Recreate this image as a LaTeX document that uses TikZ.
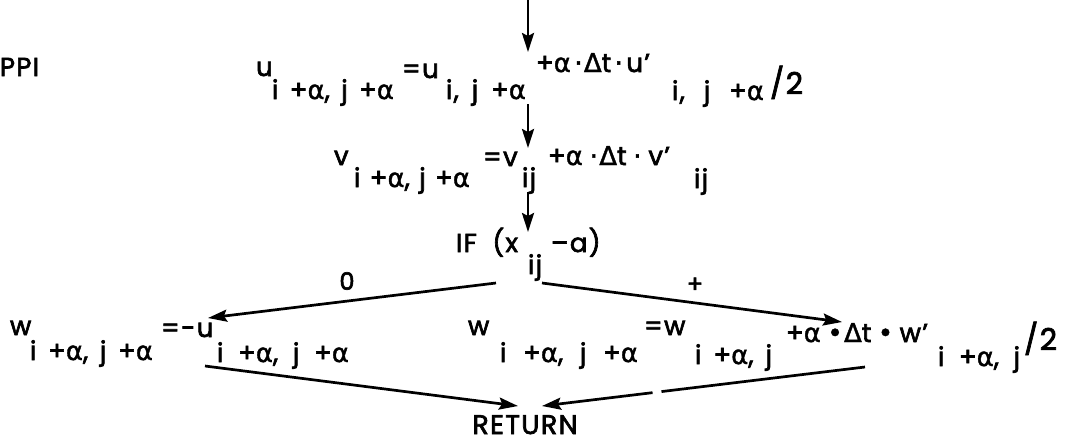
\documentclass[tikz,border=0pt]{standalone}
\usepackage{fontspec}
\setmainfont{Poppins}[LetterSpace=5,FakeBold=2.5]
\newfontfamily\gk{DejaVu Sans}[LetterSpace=5,FakeBold=1.5]
\usetikzlibrary{arrows.meta}
\newcommand\al{{\gk α}}
\newcommand\Dt{{\gk Δ}t}
\newcommand\cdt{{\gk ·}}
\newcommand\bul{{\gk •}}
\newcommand\gp{\hspace{1pt plus 1fil}}
\newcommand\fitw[2]{\makebox[#1pt][s]{#2}}
\tikzset{
  txt/.style={anchor=base west, inner sep=0pt, outer sep=0pt, font=\fontsize{26}{30}\selectfont},
  bigtxt/.style={anchor=base west, inner sep=0pt, outer sep=0pt, font=\fontsize{30}{34}\selectfont},
  lbl/.style={inner sep=0pt, font=\fontsize{24}{28}\selectfont},
  flow/.style={line width=2.7pt, -{Stealth[length=19pt,width=12pt,inset=3pt]}},
}
\begin{document}
\begin{tikzpicture}[x=1pt,y=-1pt]
\useasboundingbox (0,0) rectangle (1066,445);
\fill[white] (0,0) rectangle (1066,445);

\node[txt] (ppi) at (0,76) {PPI};

% line 1
\node[txt] (u1a) at (256,76) {u};
\node[txt] (u1b) at (272,99) {\fitw{122}{i\gp+\al,\gp j\gp+\al}};
\node[txt] (u1c) at (402,78) {=u};
\node[txt] (u1d) at (446,99) {\fitw{80}{i,\gp j\gp+\al}};
\node[txt] (u1e) at (536,72) {\fitw{114}{+\al\gp\cdt\Dt\gp\cdt\gp u'}};
\node[txt] (u1f) at (672,100) {\fitw{92}{i,\gp j\gp+\al}};
\node[bigtxt] (u1g) at (770,94) {/2};

% line 2
\node[txt] (v1a) at (334,165) {v};
\node[txt] (v1b) at (354,187) {\fitw{116}{i\gp+\al,\gp j\gp+\al}};
\node[txt] (v1c) at (483,166) {=v};
\node[txt] (v1d) at (522,187) {ij};
\node[txt] (v1e) at (548,165) {\fitw{122}{+\al\gp\cdt\Dt\gp\cdt\gp v'}};
\node[txt] (v1f) at (694,188) {ij};

% IF
\node[txt] (if1) at (456,252) {\fitw{62}{IF\gp(x}};
\node[txt] (if2) at (528,274) {ij};
\node[txt] (if3) at (551,252) {–a)};

\node[lbl] (l0) at (347,281) {0};
\node[lbl] (lp) at (695,285) {+};

% left equation
\node[txt] (wl1) at (10,335) {w};
\node[txt] (wl2) at (30,360) {\fitw{123}{i\gp+\al,\gp j\gp+\al}};
\node[txt] (wl3) at (161,337) {=-u};
\node[txt] (wl4) at (217,362) {\fitw{132}{i\gp+\al,\gp j\gp+\al}};

% right equation
\node[txt] (wr1) at (468,335) {w};
\node[txt] (wr2) at (500,362) {\fitw{138}{i\gp+\al,\gp j\gp+\al}};
\node[txt] (wr3) at (644,335) {=w};
\node[txt] (wr4) at (695,364) {\fitw{77}{i\gp+\al,\gp j}};
\node[txt] (wr5) at (786,342) {\fitw{142}{+\al\gp\bul\Dt\gp\bul\gp w'}};
\node[txt] (wr6) at (938,366) {\fitw{82}{i\gp+\al,\gp j}};
\node[bigtxt] (wr7) at (1024,350) {/2};

\node[anchor=base, inner sep=0pt, font=\fontsize{27}{30}\selectfont] (ret) at (525,434) {RETURN};

% connector end points
\coordinate (s1) at (528,0);   \coordinate (t1) at (528,52);
\coordinate (s2) at (528,104); \coordinate (t2) at (528,148);
\coordinate (s3) at (528,192); \coordinate (t3) at (528,232);
\coordinate (sl) at (496,283); \coordinate (tl) at (208,318);
\coordinate (sr) at (542,283); \coordinate (tr) at (842,322);
\coordinate (rl) at (205,366); \coordinate (rlt) at (518,406);
\coordinate (rr) at (865,367); \coordinate (rrt) at (542,406);

\draw[flow] (s1) -- (t1);
\draw[flow] (s2) -- (t2);
\draw[flow] (s3) -- (t3);
\draw[flow] (sl) -- (tl);
\draw[flow] (sr) -- (tr);
\draw[flow] (rl) -- (rlt);
\draw[flow, dash pattern=on 205pt off 9pt on 400pt] (rr) -- (rrt);
\end{tikzpicture}
\end{document}
